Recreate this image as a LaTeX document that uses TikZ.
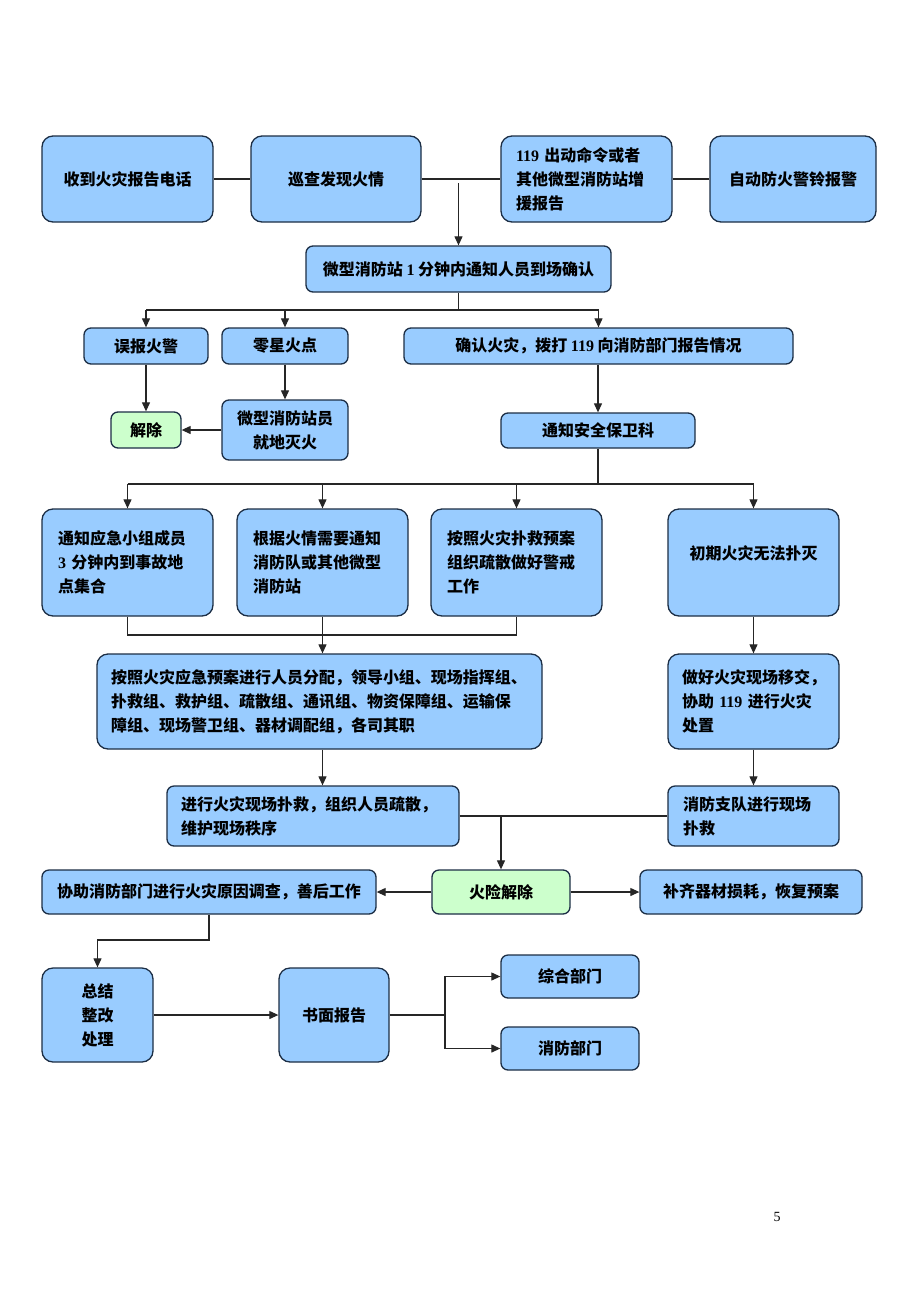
\documentclass[tikz,border=0pt]{standalone}
\usepackage{fontspec}
\setmainfont{Liberation Serif}
\newfontfamily\cjk{Noto Sans CJK SC}
\newfontfamily\latn{Liberation Serif}
\newcommand\nm[1]{{\latn\bfseries #1}}
\usetikzlibrary{arrows.meta}
\definecolor{boxblue}{HTML}{99CCFF}
\definecolor{boxgreen}{HTML}{CCFFCC}
\definecolor{edgecol}{HTML}{1C2E45}
\begin{document}
\begin{tikzpicture}[x=1pt,y=-1pt,
  bx/.style={draw=edgecol, line width=1.3pt, fill=boxblue, rounded corners=11pt, inner sep=0pt,
    font=\cjk\bfseries\fontsize{16}{24}\selectfont, align=center},
  sbx/.style={bx, rounded corners=7pt},
  gbx/.style={sbx, fill=boxgreen},
  ln/.style={draw=black!85, line width=1.1pt},
  arr/.style={ln, -{Triangle[length=9pt,width=8pt]}}]
\useasboundingbox (0,0) rectangle (920,1302);
\fill[white] (0,0) rectangle (920,1302);
% top row
\node[bx, minimum width=171pt, minimum height=86pt] (a1) at (127.5,179) {收到火灾报告电话};
\node[bx, minimum width=170pt, minimum height=86pt] (a2) at (336,179) {巡查发现火情};
\node[bx, minimum width=171pt, minimum height=86pt, text width=141pt, align=left] (a3) at (586.5,179) {\nm{119} 出动命令或者\\其他微型消防站增\\援报告};
\node[bx, minimum width=166pt, minimum height=86pt] (a4) at (793,179) {自动防火警铃报警};
% confirm
\node[sbx, minimum width=305pt, minimum height=46pt] (b) at (458.5,269) {微型消防站 \nm{1} 分钟内通知人员到场确认};
% second row
\node[sbx, minimum width=124pt, minimum height=36pt] (c1) at (146,346) {误报火警};
\node[sbx, minimum width=126pt, minimum height=36pt] (c2) at (285,346) {零星火点};
\node[sbx, minimum width=389pt, minimum height=36pt] (c3) at (598.5,346) {确认火灾，拨打 \nm{119} 向消防部门报告情况};
\node[gbx, minimum width=70pt, minimum height=36pt] (d1) at (146,430) {解除};
\node[sbx, minimum width=126pt, minimum height=60pt] (d2) at (285,430) {微型消防站员\\就地灭火};
\node[sbx, minimum width=194pt, minimum height=35pt] (e) at (598,430.5) {通知安全保卫科};
% third row
\node[bx, minimum width=171pt, minimum height=107pt, text width=139pt, align=left] (f1) at (127.5,562.5) {通知应急小组成员\\\nm{3} 分钟内到事故地\\点集合};
\node[bx, minimum width=171pt, minimum height=107pt, text width=139pt, align=left] (f2) at (322.5,562.5) {根据火情需要通知\\消防队或其他微型\\消防站};
\node[bx, minimum width=171pt, minimum height=107pt, text width=139pt, align=left] (f3) at (516.5,562.5) {按照火灾扑救预案\\组织疏散做好警戒\\工作};
\node[bx, minimum width=171pt, minimum height=107pt, text depth=20pt] (f4) at (753.5,562.5) {初期火灾无法扑灭};
% fourth row
\node[bx, minimum width=445pt, minimum height=95pt, text width=417pt, align=left] (g1) at (319.5,701.5) {按照火灾应急预案进行人员分配，领导小组、现场指挥组、\\扑救组、救护组、疏散组、通讯组、物资保障组、运输保\\障组、现场警卫组、器材调配组，各司其职};
\node[bx, minimum width=171pt, minimum height=95pt, text width=143pt, align=left] (g2) at (753.5,701.5) {做好火灾现场移交，\\协助 \nm{119} 进行火灾\\处置};
% fifth row
\node[sbx, minimum width=292pt, minimum height=60pt, text width=264pt, align=left] (h1) at (313,816) {进行火灾现场扑救，组织人员疏散，\\维护现场秩序};
\node[sbx, minimum width=171pt, minimum height=60pt, text width=141pt, align=left] (h2) at (753.5,816) {消防支队进行现场\\扑救};
% sixth row
\node[gbx, minimum width=138pt, minimum height=44pt] (k) at (501,892) {火险解除};
\node[sbx, minimum width=334pt, minimum height=44pt] (k1) at (209,892) {协助消防部门进行火灾原因调查，善后工作};
\node[sbx, minimum width=222pt, minimum height=44pt] (k2) at (751,892) {补齐器材损耗，恢复预案};
% bottom
\node[bx, minimum width=111pt, minimum height=94pt] (m1) at (97.5,1015) {总结\\整改\\处理};
\node[bx, minimum width=110pt, minimum height=94pt] (m2) at (334,1015) {书面报告};
\node[sbx, minimum width=138pt, minimum height=43pt] (n1) at (570,976.5) {综合部门};
\node[sbx, minimum width=138pt, minimum height=43pt] (n2) at (570,1048.5) {消防部门};
\node[font=\fontsize{14}{16}\selectfont] (pg) at (777,1217) {5};
% connectors
\draw[ln] (a1.east) -- (a2.west);
\draw[ln] (a2.east) -- (a3.west);
\draw[ln] (a3.east) -- (a4.west);
\coordinate (t1) at (458.5,183);
\draw[arr] (t1) -- (b.north);
\coordinate (j1) at (458.5,310);
\draw[ln] (b.south) -- (j1);
\draw[ln] (c1.north |- j1) -- (c3.north |- j1);
\draw[arr] (c1.north |- j1) -- (c1.north);
\draw[arr] (c2.north |- j1) -- (c2.north);
\draw[arr] (c3.north |- j1) -- (c3.north);
\draw[arr] (c1.south) -- (d1.north);
\draw[arr] (c2.south) -- (d2.north);
\draw[arr] (d2.west) -- (d1.east);
\draw[arr] (e.north |- c3.south) -- (e.north);
\coordinate (j2) at (598,484);
\draw[ln] (e.south) -- (j2);
\draw[ln] (f1.north |- j2) -- (f4.north |- j2);
\draw[arr] (f1.north |- j2) -- (f1.north);
\draw[arr] (f2.north |- j2) -- (f2.north);
\draw[arr] (f3.north |- j2) -- (f3.north);
\draw[arr] (f4.north |- j2) -- (f4.north);
\coordinate (j3) at (322.5,635);
\draw[ln] (f1.south) -- (f1.south |- j3) -- (f3.south |- j3) -- (f3.south);
\draw[ln] (f2.south) -- (j3);
\draw[arr] (j3) -- (j3 |- g1.north);
\draw[arr] (f4.south) -- (g2.north);
\draw[arr] (j3 |- g1.south) -- (j3 |- h1.north);
\draw[arr] (g2.south) -- (h2.north);
\draw[ln] (h1.east) -- (h2.west);
\coordinate (j4) at (501,816);
\draw[arr] (j4) -- (k.north);
\draw[arr] (k.west) -- (k1.east);
\draw[arr] (k.east) -- (k2.west);
\coordinate (j5) at (209,940);
\draw[arr] (k1.south) -- (j5) -- (m1.north |- j5) -- (m1.north);
\draw[arr] (m1.east) -- (m2.west);
\coordinate (j6) at (445,1015);
\draw[ln] (m2.east) -- (j6);
\draw[arr] (j6) |- (n1.west);
\draw[arr] (j6) |- (n2.west);
\end{tikzpicture}
\end{document}
